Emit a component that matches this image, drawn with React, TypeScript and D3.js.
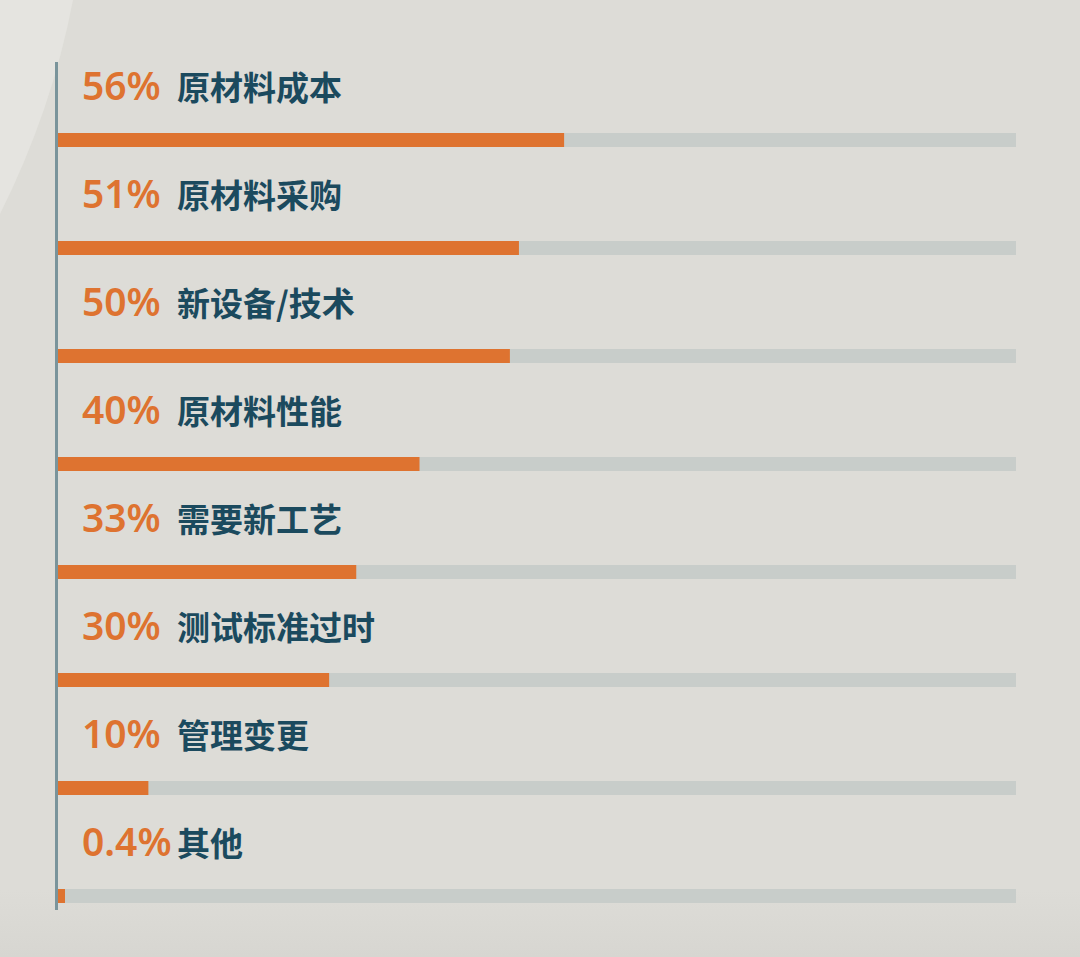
import { useEffect, useRef } from "react";
import * as d3 from "d3";

// ── Data ────────────────────────────────────────────────────────────────
const LABELS = ["原材料成本", "原材料采购", "新设备/技术", "原材料性能", "需要新工艺", "测试标准过时", "管理变更", "其他"];
const VALUES = [56, 51, 50, 40, 33, 30, 10, 0.4];
const VALUE_TEXT = ["56%", "51%", "50%", "40%", "33%", "30%", "10%", "0.4%"];

const W = 1080;
const H = 957;

const ORANGE = "#de7330";
const TRACK = "#c8cdca";
const INK = "#1b4a5e";
const AXIS = "#7a949b";
const BG = "#dddcd7";

const X0 = 58;
const X1 = 1016;
const BAR_H = 14;
const MIN_BAR = 7;

export default function App() {
  const svgRef = useRef<SVGSVGElement>(null);

  useEffect(() => {
    document.body.style.margin = "0";
    if (!svgRef.current) return;

    const svg = d3.select(svgRef.current);
    svg.selectAll("*").remove();

    const x = d3.scaleLinear().domain([0, 106]).range([X0, X1]);
    const y = d3.scaleBand<string>().domain(LABELS).range([62, 926]).paddingInner(0);

    // ── Background ──
    const defs = svg.append("defs");
    const grad = defs.append("linearGradient")
      .attr("id", "bgfade").attr("x1", 0).attr("x2", 0).attr("y1", 0).attr("y2", 1);
    grad.append("stop").attr("offset", "0.93").attr("stop-color", BG);
    grad.append("stop").attr("offset", "1").attr("stop-color", "#d7d6d1");

    svg.append("rect").attr("width", W).attr("height", H).attr("fill", "url(#bgfade)");

    // lighter curved sheen, top-left
    svg.append("path")
      .attr("d", "M0,0 L73,0 Q52,110 0,214 Z")
      .attr("fill", "#e5e4e0");

    // ── Rows ──
    LABELS.forEach((label, i) => {
      const top = y(label) ?? 0;
      const barY = top + 71;

      svg.append("rect")
        .attr("x", X0).attr("y", barY)
        .attr("width", X1 - X0).attr("height", BAR_H)
        .attr("fill", TRACK);

      svg.append("rect")
        .attr("x", X0).attr("y", barY)
        .attr("width", Math.max(x(VALUES[i]) - X0, MIN_BAR)).attr("height", BAR_H)
        .attr("fill", ORANGE);

      svg.append("text")
        .attr("x", 82).attr("y", top + 38)
        .attr("font-family", "'Noto Sans', 'Open Sans', sans-serif")
        .attr("font-weight", 600)
        .attr("font-size", 39)
        .attr("fill", ORANGE)
        .text(VALUE_TEXT[i]);

      svg.append("text")
        .attr("x", 177).attr("y", top + 38)
        .attr("font-family", "'Noto Sans CJK SC', sans-serif")
        .attr("font-weight", 700)
        .attr("font-size", 33)
        .attr("fill", INK)
        .text(label);
    });

    // ── Vertical axis line ──
    svg.append("line")
      .attr("x1", 56.5).attr("x2", 56.5)
      .attr("y1", 62).attr("y2", 910)
      .attr("stroke", AXIS)
      .attr("stroke-width", 3);
  }, []);

  return (
    <div style={{ position: "absolute", left: 0, top: 0 }}>
      <svg ref={svgRef} width={W} height={H} style={{ display: "block" }} />
    </div>
  );
}
